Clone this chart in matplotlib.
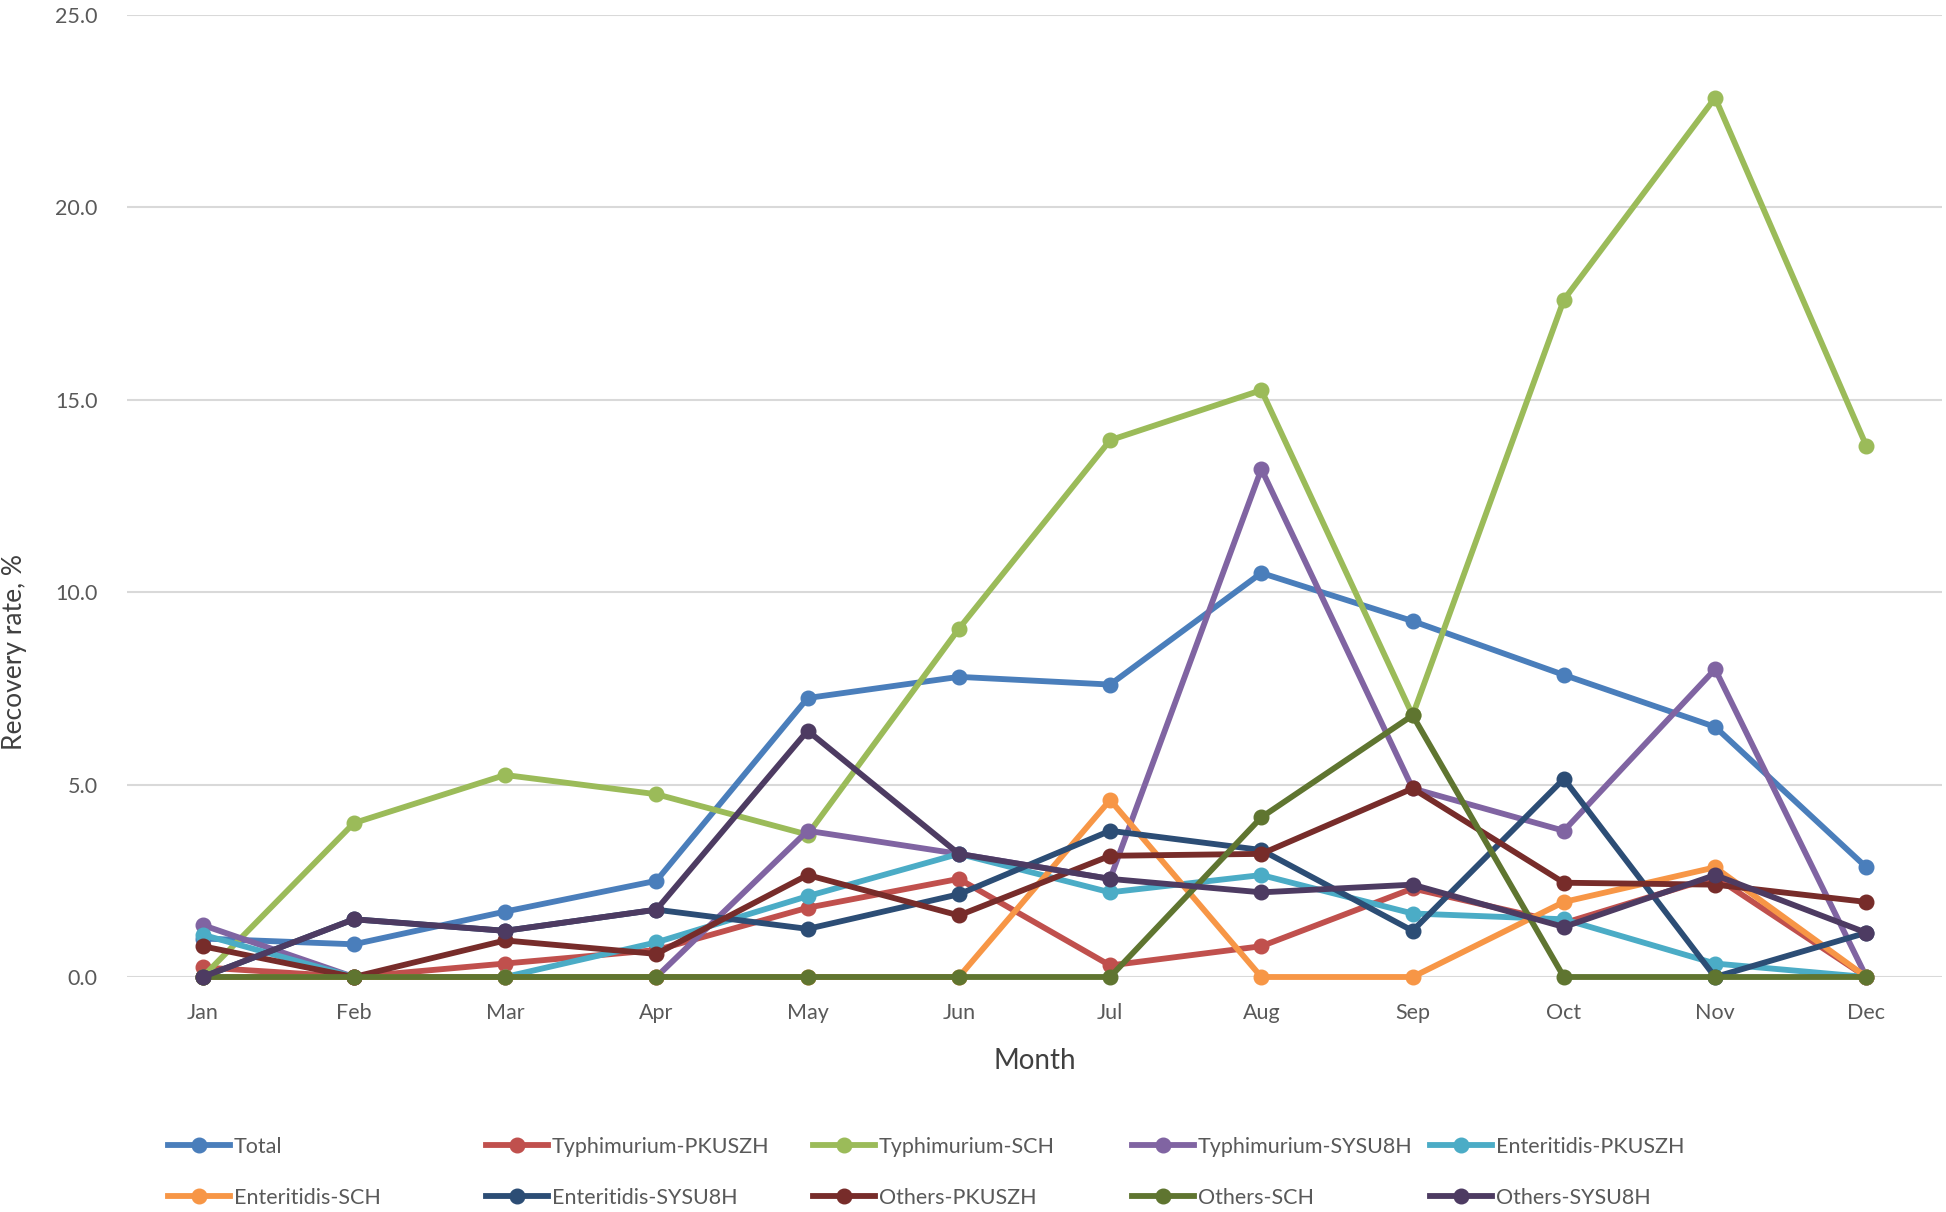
import matplotlib
matplotlib.use("Agg")
import matplotlib.pyplot as plt

months = ["Jan", "Feb", "Mar", "Apr", "May", "Jun", "Jul", "Aug", "Sep", "Oct", "Nov", "Dec"]

total = [1.0, 0.85, 1.7, 2.5, 7.25, 7.8, 7.6, 10.5, 9.25, 7.85, 6.5, 2.85]
typhi_pkuszh = [0.25, 0.0, 0.35, 0.7, 1.8, 2.55, 0.3, 0.8, 2.3, 1.4, 2.6, 0.0]
typhi_sch = [0.0, 4.0, 5.25, 4.75, 3.7, 9.05, 13.95, 15.25, 6.8, 17.6, 22.85, 13.8]
typhi_sysu8h = [1.35, 0.0, 0.0, 0.0, 3.8, 3.2, 2.55, 13.2, 4.9, 3.8, 8.0, 0.0]
enter_pkuszh = [1.1, 0.0, 0.0, 0.9, 2.1, 3.2, 2.2, 2.65, 1.65, 1.5, 0.35, 0.0]
enter_sch = [0.0, 0.0, 0.0, 0.0, 0.0, 0.0, 4.6, 0.0, 0.0, 1.95, 2.85, 0.0]
enter_sysu8h = [0.0, 1.5, 1.2, 1.75, 1.25, 2.15, 3.8, 3.3, 1.2, 5.15, 0.0, 1.15]
others_pkuszh = [0.8, 0.0, 0.95, 0.6, 2.65, 1.6, 3.15, 3.2, 4.9, 2.45, 2.4, 1.95]
others_sch = [0.0, 0.0, 0.0, 0.0, 0.0, 0.0, 0.0, 4.15, 6.8, 0.0, 0.0, 0.0]
others_sysu8h = [0.0, 1.5, 1.2, 1.75, 6.4, 3.2, 2.55, 2.2, 2.4, 1.3, 2.65, 1.15]

series_labels = ["Total", "Typhimurium-PKUSZH", "Typhimurium-SCH", "Typhimurium-SYSU8H",
                 "Enteritidis-PKUSZH", "Enteritidis-SCH", "Enteritidis-SYSU8H",
                 "Others-PKUSZH", "Others-SCH", "Others-SYSU8H"]
series_values = [total, typhi_pkuszh, typhi_sch, typhi_sysu8h, enter_pkuszh,
                 enter_sch, enter_sysu8h, others_pkuszh, others_sch, others_sysu8h]
colors = ["#4A7EBB", "#C0504D", "#9BBB59", "#8064A2", "#4BACC6",
          "#F79646", "#2C4D75", "#772C2A", "#5F7530", "#4D3B62"]

yticks = [0, 5, 10, 15, 20, 25]

plt.rcParams['font.family'] = ['Lato', 'DejaVu Sans']

fig = plt.figure(figsize=(19.46, 12.12), dpi=100)
ax = fig.add_axes([127/1946, 1-977/1212, (1942-127)/1946, (977-15)/1212])

x = list(range(len(months)))
lines = []
for lab, vals, c in zip(series_labels, series_values, colors):
    ln, = ax.plot(x, vals, color=c, lw=4.2, marker='o', ms=10.5, label=lab,
                  solid_joinstyle='round', clip_on=False, zorder=3)
    lines.append(ln)

ax.set_xlim(-0.5, 11.5)
ax.set_ylim(0, 25)
ax.set_xticks(x)
ax.set_xticklabels(months)
ax.set_yticks(yticks)
ax.set_yticklabels([f"{v:.1f}" for v in yticks])
ax.grid(axis='y', color='#D9D9D9', lw=1.5, zorder=0)
ax.set_axisbelow(True)
for s in ax.spines.values():
    s.set_visible(False)
ax.tick_params(axis='both', length=0, colors='#595959', labelsize=15.5)
ax.tick_params(axis='y', pad=21)
ax.tick_params(axis='x', pad=19)

ax.set_xlabel("Month", fontsize=20, color='#404040', labelpad=18)
fig.text(15/1946, 1-525*1.241/1212, "Recovery rate, %", rotation=90, fontsize=19,
         color='#404040', ha='center', va='center')

col_x = [168, 486, 813, 1132, 1430]
row_y = [1147, 1198]
for i, ln in enumerate(lines):
    r, cidx = divmod(i, 5)
    fig.legend([ln], [ln.get_label()], loc='center left',
               bbox_to_anchor=(col_x[cidx]/1946, 1 - row_y[r]/1212),
               frameon=False, fontsize=15.5, handlelength=2.9, handletextpad=0.15,
               borderpad=0, borderaxespad=0, labelcolor='#595959')

fig.savefig("out.png", dpi=100)
